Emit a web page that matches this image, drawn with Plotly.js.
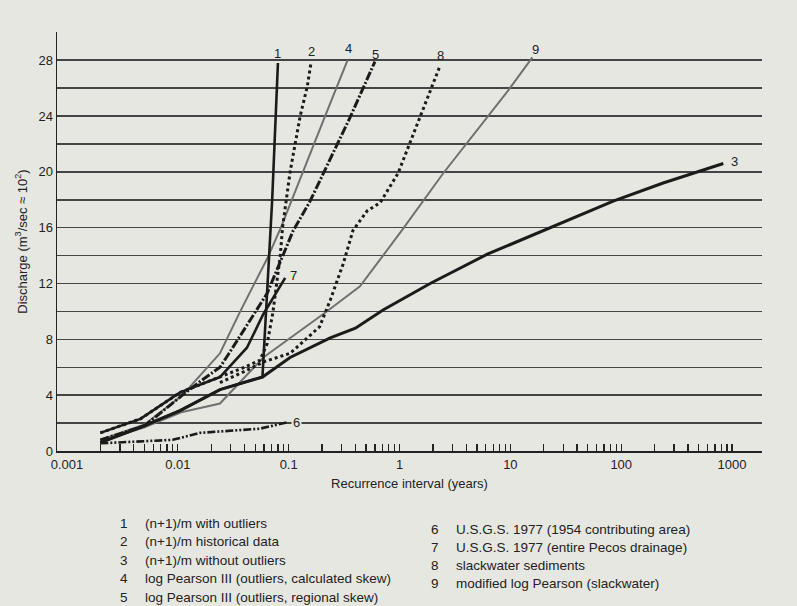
<!DOCTYPE html>
<html>
<head>
<meta charset="utf-8">
<script src="https://cdn.plot.ly/plotly-3.0.1.min.js"></script>
<style>
  html, body { margin: 0; padding: 0; background: #e7e7e2; }
  #chart { width: 797px; height: 606px; }
</style>
</head>
<body>
<div id="chart"></div>
<script>
// ---- Data ----
const seriesNumbers = ['1', '2', '3', '4', '5', '6', '7', '8', '9'];
const seriesNames = [
  '(n+1)/m with outliers',
  '(n+1)/m historical data',
  '(n+1)/m without outliers',
  'log Pearson III (outliers, calculated skew)',
  'log Pearson III (outliers, regional skew)',
  'U.S.G.S. 1977 (1954 contributing area)',
  'U.S.G.S. 1977 (entire Pecos drainage)',
  'slackwater sediments',
  'modified log Pearson (slackwater)'
];

const s1x = [0.002, 0.0046, 0.0105, 0.024, 0.058, 0.071, 0.080];
const s1y = [0.6, 1.7, 2.9, 4.4, 5.3, 18.0, 27.8];

const s2x = [0.002, 0.0046, 0.0105, 0.024, 0.04, 0.055, 0.064, 0.072, 0.084, 0.088, 0.103, 0.127, 0.147, 0.159];
const s2y = [1.3, 2.3, 4.2, 5.3, 6.0, 6.5, 7.7, 9.9, 14.0, 16.0, 20.0, 24.0, 26.1, 27.8];

const s3x = [0.002, 0.0046, 0.0105, 0.024, 0.058, 0.103, 0.237, 0.40, 0.71, 1.89, 6.2, 21.5, 84.7, 239, 834];
const s3y = [0.6, 1.7, 2.9, 4.4, 5.3, 6.7, 8.1, 8.8, 10.1, 12.0, 14.1, 15.9, 17.9, 19.2, 20.6];

const s4x = [0.002, 0.005, 0.011, 0.024, 0.036, 0.065, 0.085, 0.134, 0.213, 0.34];
const s4y = [0.8, 1.9, 4.0, 7.0, 9.9, 13.9, 16.0, 20.0, 24.0, 28.0];

const s5x = [0.002, 0.005, 0.011, 0.016, 0.024, 0.029, 0.064, 0.083, 0.11, 0.156, 0.358, 0.60];
const s5y = [0.8, 1.8, 4.0, 5.0, 6.0, 7.0, 11.3, 13.4, 15.8, 17.9, 23.9, 27.9];

const s6x = [0.002, 0.0035, 0.009, 0.0158, 0.0226, 0.055, 0.097];
const s6y = [0.55, 0.65, 0.8, 1.3, 1.4, 1.6, 2.05];

const s7x = [0.002, 0.0046, 0.0105, 0.024, 0.042, 0.059, 0.093];
const s7y = [1.3, 2.3, 4.2, 5.3, 7.4, 9.8, 12.4];

const s8x = [0.024, 0.04, 0.06, 0.103, 0.19, 0.237, 0.31, 0.38, 0.51, 0.67, 0.97, 1.25, 1.53, 2.32];
const s8y = [4.9, 5.7, 6.4, 7.0, 8.9, 10.8, 13.4, 15.8, 17.2, 17.8, 19.9, 22.1, 23.9, 27.6];

const s9x = [0.002, 0.005, 0.011, 0.024, 0.059, 0.103, 0.213, 0.44, 1.05, 2.48, 9.5, 15.8];
const s9y = [0.7, 1.7, 2.8, 3.4, 6.7, 8.1, 9.9, 11.8, 15.8, 19.9, 25.8, 28.2];

const xTickVals = [0.001, 0.01, 0.1, 1, 10, 100, 1000];
const xTickText = ['0.001', '0.01', '0.1', '1', '10', '100', '1000'];
const yTickVals = [0, 4, 8, 12, 16, 20, 24, 28];

// ---- Styles ----
const BG = '#e7e7e2';
const BLACK = '#1b1b1b';
const GRAY = '#707070';
const FONT = 'Liberation Sans, Arial, sans-serif';

const allX = [s1x, s2x, s3x, s4x, s5x, s6x, s7x, s8x, s9x];
const allY = [s1y, s2y, s3y, s4y, s5y, s6y, s7y, s8y, s9y];
const lineStyles = [
  {color: BLACK, width: 2.6, dash: 'solid'},
  {color: BLACK, width: 3, dash: 'dot'},
  {color: BLACK, width: 3, dash: 'solid'},
  {color: GRAY, width: 2, dash: 'solid'},
  {color: BLACK, width: 3, dash: '9px,2px,2px,2px'},
  {color: BLACK, width: 2.6, dash: '8px,2px,2px,2px,2px,2px'},
  {color: BLACK, width: 2.6, dash: 'solid'},
  {color: BLACK, width: 3, dash: 'dot'},
  {color: GRAY, width: 2, dash: 'solid'}
];
// label offsets (px) from each series' last point
const labelShift = [
  [0, 9], [0, 11], [11, 2], [1, 12], [1, 7], [9, 0], [8, 2], [0, 10], [3, 8]
];

// draw order: gray first, then black
const order = [3, 8, 5, 4, 7, 1, 6, 2, 0];
const traces = order.map(i => ({
  type: 'scatter', mode: 'lines',
  x: allX[i], y: allY[i],
  name: seriesNumbers[i] + ' ' + seriesNames[i],
  line: Object.assign({}, lineStyles[i]),
  showlegend: false, hoverinfo: 'skip'
}));

// minor x ticks: 2..9 (and decade) in every decade
const minorTicks = [];
for (let e = -3; e < 3; e++) {
  for (let m = 2; m <= 10; m++) minorTicks.push(m * Math.pow(10, e));
}

const annotations = [];
// curve labels
for (let i = 0; i < 9; i++) {
  const xs = allX[i], ys = allY[i];
  const n = xs.length - 1;
  annotations.push({
    x: Math.log10(xs[n]), y: ys[n], xref: 'x', yref: 'y',
    text: seriesNumbers[i], showarrow: false,
    xshift: labelShift[i][0], yshift: labelShift[i][1],
    xanchor: 'center', yanchor: 'middle',
    font: {family: FONT, size: 13, color: '#222'},
    bgcolor: i === 5 ? BG : 'rgba(0,0,0,0)'
  });
}

// legend (numbered list) below the chart
const L = 57, R = 762, TOPPX = 32, BOTPX = 451;
const px2x = p => (p - L) / (R - L);
const py2y = p => (BOTPX - p) / (BOTPX - TOPPX);
const leftRows = [523, 541, 560, 578, 597];
const rightRows = [529, 547, 565, 583];
for (let i = 0; i < 9; i++) {
  const left = i < 5;
  const py = left ? leftRows[i] : rightRows[i - 5];
  const numX = left ? 124 : 435;
  const txtX = left ? 143 : 454;
  annotations.push({
    xref: 'paper', yref: 'paper', x: px2x(numX), y: py2y(py),
    text: seriesNumbers[i], showarrow: false, xanchor: 'center', yanchor: 'middle',
    font: {family: FONT, size: 13.5, color: '#222'}
  });
  annotations.push({
    xref: 'paper', yref: 'paper', x: px2x(txtX), y: py2y(py),
    text: seriesNames[i], showarrow: false, xanchor: 'left', yanchor: 'middle',
    font: {family: FONT, size: 13.5, color: '#222'}
  });
}

const layout = {
  width: 797, height: 606,
  paper_bgcolor: BG, plot_bgcolor: BG,
  margin: {l: 57, r: 35, t: 32, b: 155},
  showlegend: false,
  font: {family: FONT, size: 13, color: '#222'},
  xaxis: {
    type: 'log',
    range: [-3.09, 3.27],
    tickmode: 'array', tickvals: xTickVals, ticktext: xTickText,
    ticks: '', showgrid: false, zeroline: false,
    showline: true, linecolor: '#222', linewidth: 2,
    tickfont: {family: FONT, size: 13, color: '#222'},
    minor: {tickmode: 'array', tickvals: minorTicks, ticks: 'inside', ticklen: 7, tickwidth: 1.3, tickcolor: '#222', showgrid: false},
    title: {text: 'Recurrence interval (years)', font: {family: FONT, size: 13, color: '#222'}, standoff: 8}
  },
  yaxis: {
    range: [0, 30.02],
    tickmode: 'array', tickvals: yTickVals,
    ticks: '', showgrid: true, gridcolor: '#444', gridwidth: 1.5,
    zeroline: false,
    showline: true, linecolor: '#222', linewidth: 1.5,
    tickfont: {family: FONT, size: 13, color: '#222'},
    minor: {dtick: 2, showgrid: true, gridcolor: '#444', gridwidth: 1.5, ticks: ''},
    title: {text: 'Discharge (m<sup>3</sup>/sec ≈ 10<sup>2</sup>)', font: {family: FONT, size: 13, color: '#222'}, standoff: 8}
  },
  annotations: annotations
};

Plotly.newPlot('chart', traces, layout, {displayModeBar: false, staticPlot: true});
</script>
</body>
</html>
